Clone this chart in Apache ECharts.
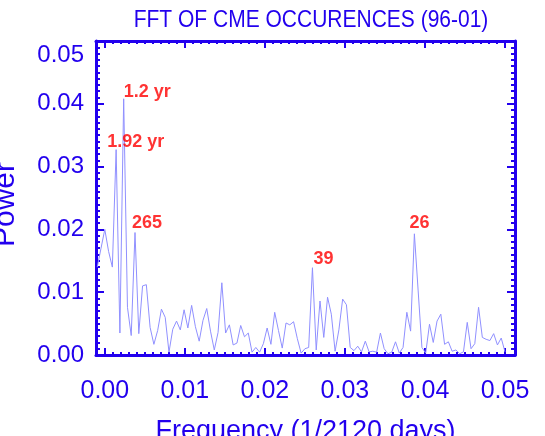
<!DOCTYPE html>
<html><head><meta charset="utf-8">
<script src="https://cdn.jsdelivr.net/npm/echarts@6/dist/echarts.min.js"></script>
<style>html,body{margin:0;padding:0;background:#fff}#c{width:545px;height:436px}</style>
</head><body><div id="c"></div>
<script>
// ---- data ----
const titleText = 'FFT OF CME OCCURENCES (96-01)';
const xName = 'Frequency (1/2120 days)';
const yName = 'Power';
const FREQ_STEP = 1 / 2120;     // frequency bin width
const FIRST_BIN = -2;           // bin index of first power value
const power = [
  0.0140, 0.0170,
  0.0200, 0.0165, 0.0140, 0.0327, 0.0035, 0.0408, 0.0076, 0.0031, 0.0195, 0.0034,
  0.0110, 0.0112, 0.0044, 0.0017, 0.0039, 0.0073, 0.0060, 0.00045, 0.0041, 0.0054,
  0.0040, 0.0072, 0.0043, 0.0079, 0.0045, 0.0022, 0.0055, 0.0074, 0.0038, 0.0008,
  0.0036, 0.0115, 0.0035, 0.0048, 0.0016, 0.0019, 0.0047, 0.0029, 0.0035, 0.00045,
  0.0012, 0.00045, 0.0018, 0.0043, 0.0017, 0.0068, 0.0039, 0.0011, 0.0051, 0.0048,
  0.0053, 0.0026, 0.0003, 0.0010, 0.0012, 0.0139, 0.0008, 0.0086, 0.0028, 0.0092,
  0.0065, 0.0006, 0.0040, 0.0089, 0.0080, 0.0012, 0.0007, 0.0014, 0.0005, 0.0022,
  0.0005, 0.0006, 0.00045, 0.0035, 0.0010, 0.0002, 0.00045, 0.0021, 0.0003, 0.0012,
  0.0068, 0.0038, 0.0193, 0.0102, 0.0012, 0.0003, 0.0049, 0.0020, 0.0054, 0.0065,
  0.0017, 0.0021, 0.0006, 0.0008, 0.0002, 0.0005, 0.0052, 0.0010, 0.0018, 0.0076,
  0.0028, 0.0025, 0.0023, 0.0034, 0.0016, 0.0027, 0.0005
];
const xTickLabels = ['0.00', '0.01', '0.02', '0.03', '0.04', '0.05'];
const yTickLabels = ['0.00', '0.01', '0.02', '0.03', '0.04', '0.05'];
const peakBins = [5, 3, 8, 55, 82];
const peakLabels = ['1.2 yr', '1.92 yr', '265', '39', '26'];

// ---- build ----
const BLUE = '#2200ee';
const FONT = "'Liberation Sans', Arial, sans-serif";
const seriesData = power.map((p, i) => [(FIRST_BIN + i) * FREQ_STEP, p]);
const peakData = peakBins.map(b => seriesData[b - FIRST_BIN]);
const labelOffsets = [[0, -6], [-9, -7], [-3, -9], [1, -8], [-5, -10]];

const xMajor = xTickLabels.map(Number);
const xMinor = [];
for (let i = 0; i <= 50; i++) xMinor.push(+(i * 0.001).toFixed(3));
const yMax = Number(yTickLabels[yTickLabels.length - 1]);
const xMin = -0.0011, xMax = 0.05125;

function xAxisDef(pos, major, withLabels) {
  return {
    type: 'value', position: pos, min: xMin, max: xMax,
    axisLine: { show: major, onZero: false, lineStyle: { color: BLUE, width: 3 } },
    axisTick: { show: true, inside: true, length: major ? 7 : 3,
      customValues: major ? xMajor : xMinor, lineStyle: { color: BLUE, width: 2 } },
    axisLabel: withLabels ? { show: true, customValues: xMajor, formatter: v => v.toFixed(2),
      color: BLUE, fontSize: 25, margin: 24, fontFamily: FONT } : { show: false },
    splitLine: { show: false },
    name: withLabels ? xName : '', nameLocation: 'middle', nameGap: 63,
    nameMoveOverlap: false,
    nameTextStyle: { color: BLUE, fontSize: 27, fontFamily: FONT }
  };
}
function yAxisDef(pos, withLabels) {
  return {
    type: 'value', position: pos, min: 0, max: yMax, interval: 0.01,
    axisLine: { show: true, onZero: false, lineStyle: { color: BLUE, width: 3 } },
    axisTick: { show: true, inside: true, length: 8, lineStyle: { color: BLUE, width: 2 } },
    minorTick: { show: true, splitNumber: 10, length: 4, lineStyle: { color: BLUE, width: 2 } },
    axisLabel: withLabels ? { show: true, color: BLUE, fontSize: 24, margin: 12, fontFamily: FONT,
      formatter: v => Math.abs(v - yMax) < 1e-9 ? '{t|' + v.toFixed(2) + '}' : v.toFixed(2),
      rich: { t: { fontSize: 24, color: BLUE, fontFamily: FONT, padding: [28, 0, 0, 0] } } } : { show: false },
    splitLine: { show: false }, minorSplitLine: { show: false },
    name: withLabels ? yName : '', nameLocation: 'middle', nameGap: 75,
    nameMoveOverlap: false,
    nameTextStyle: { color: BLUE, fontSize: 30, fontFamily: FONT, padding: [0, 13, 0, 0] }
  };
}

const chart = echarts.init(document.getElementById('c'), null, { renderer: 'canvas' });
chart.setOption({
  animation: false,
  backgroundColor: '#ffffff',
  graphic: [{
    type: 'text', x: 311, y: 20, scaleY: 1.18, silent: true,
    style: { text: titleText, fill: BLUE, font: "21px 'Liberation Sans', Arial, sans-serif",
      align: 'center', verticalAlign: 'middle' }
  }],
  grid: { left: 96, right: 30, top: 41, bottom: 81, containLabel: false, outerBoundsMode: 'none' },
  xAxis: [xAxisDef('bottom', true, true), xAxisDef('bottom', false, false),
          xAxisDef('top', true, false), xAxisDef('top', false, false)],
  yAxis: [yAxisDef('left', true), yAxisDef('right', false)],
  series: [
    { type: 'line', data: seriesData, xAxisIndex: 0, yAxisIndex: 0, showSymbol: false,
      symbol: 'none', lineStyle: { color: '#9090ff', width: 1 }, clip: true, z: 1 },
    { type: 'scatter', data: peakData.map((pt, i) => ({ value: pt, label: { offset: labelOffsets[i] } })),
      xAxisIndex: 0, yAxisIndex: 0, symbolSize: 1, itemStyle: { color: 'transparent' }, silent: true, z: 5,
      label: { show: true, position: 'top', distance: 0, align: 'left', verticalAlign: 'middle',
        formatter: p => peakLabels[p.dataIndex], color: '#ff0000', fontSize: 18, fontWeight: 'bold',
        fontFamily: FONT } }
  ]
});
</script></body></html>
